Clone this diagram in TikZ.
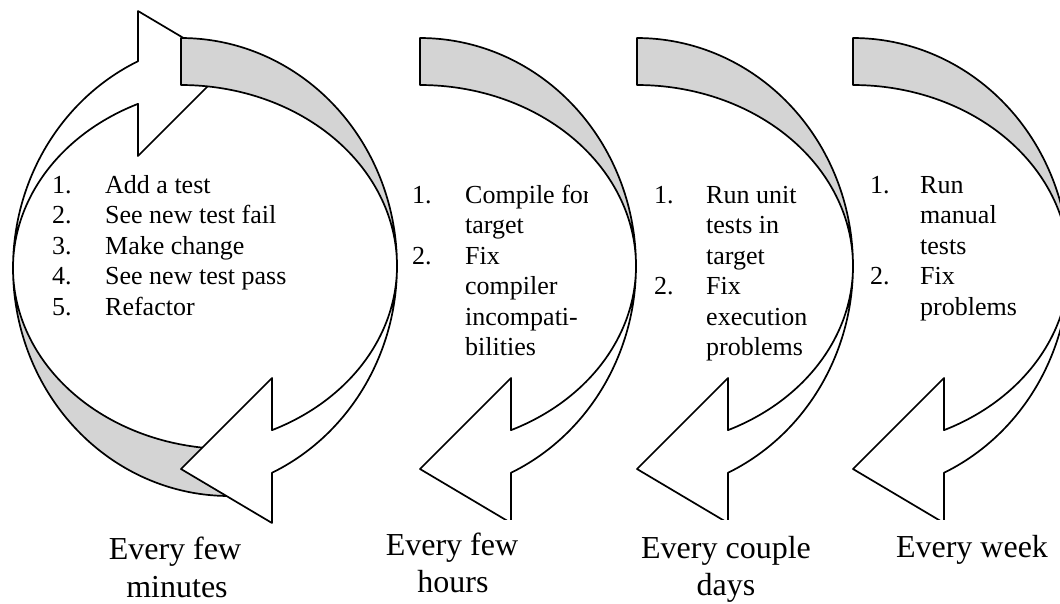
\documentclass[tikz,border=0pt]{standalone}
\usepackage{fontspec}
\setmainfont{Liberation Serif}
\definecolor{bandgray}{RGB}{212,212,212}
\tikzset{
  band/.style={line width=1.7pt, line join=round, draw=black},
  itemtxt/.style={anchor=base west, inner sep=0pt, font=\fontsize{26}{30}\selectfont},
  lbl/.style={anchor=base, inner sep=0pt, font=\fontsize{32}{37}\selectfont},
}
\newcommand\cycshape[1]{%
 \begin{scope}[shift={(#1,0)}]
  \filldraw[band, fill=bandgray] plot[domain=-90:0,samples=80] ({216*cos(\x)},{266+228*sin(\x)}) -- plot[domain=0:-90,samples=80] ({216*cos(\x)},{266+181*sin(\x)}) -- cycle;
  \filldraw[band, fill=white] plot[domain=0:65.08,samples=70] ({216*cos(\x)},{266+228*sin(\x)}) -- (91,523) -- (0,469) -- (91,378) -- plot[domain=65.08:0,samples=70] ({216*cos(\x)},{266+181*sin(\x)}) -- cycle;
 \end{scope}}
\begin{document}
\begin{tikzpicture}[x=1pt,y=-1pt]
\fill[white] (0,0) rectangle (1060,603);
\useasboundingbox (0,0) rectangle (1060,603);
\begin{scope}
 \clip (0,0) rectangle (1060,603);
 \begin{scope}[rotate around={180:(205,267)}]
  \cycshape{181}
 \end{scope}
 \cycshape{181}
 \begin{scope}
  \clip (0,0) rectangle (1060,519);
  \cycshape{420}
  \cycshape{637}
  \cycshape{853}
 \end{scope}
\end{scope}
% stage 1
\node[itemtxt] (a1n) at (52,193) {1.};
\node[itemtxt] (a1t) at (105,193) {Add a test};
\node[itemtxt] (a2n) at (52,223.5) {2.};
\node[itemtxt] (a2t) at (105,223.5) {See new test fail};
\node[itemtxt] (a3n) at (52,254) {3.};
\node[itemtxt] (a3t) at (105,254) {Make change};
\node[itemtxt] (a4n) at (52,284.5) {4.};
\node[itemtxt] (a4t) at (105,284.5) {See new test pass};
\node[itemtxt] (a5n) at (52,315) {5.};
\node[itemtxt] (a5t) at (105,315) {Refactor};
% stage 2
\node[itemtxt] (b1n) at (412,203) {1.};
\begin{scope}
 \clip (400,150) rectangle (587,220);
 \node[itemtxt] (b1t) at (465,203) {Compile for};
\end{scope}
\node[itemtxt] (b1u) at (465,233.5) {target};
\node[itemtxt] (b2n) at (412,264) {2.};
\node[itemtxt] (b2t) at (465,264) {Fix};
\node[itemtxt] (b2u) at (465,294.5) {compiler};
\node[itemtxt] (b2v) at (465,325) {incompati-};
\node[itemtxt] (b2w) at (465,355.5) {bilities};
% stage 3
\node[itemtxt] (c1n) at (654,203) {1.};
\node[itemtxt] (c1t) at (706,203) {Run unit};
\node[itemtxt] (c1u) at (706,233.5) {tests in};
\node[itemtxt] (c1v) at (706,264) {target};
\node[itemtxt] (c2n) at (654,294.5) {2.};
\node[itemtxt] (c2t) at (706,294.5) {Fix};
\node[itemtxt] (c2u) at (706,325) {execution};
\node[itemtxt] (c2v) at (706,355.5) {problems};
% stage 4
\node[itemtxt] (d1n) at (870,193) {1.};
\node[itemtxt] (d1t) at (920,193) {Run};
\node[itemtxt] (d1u) at (920,223.5) {manual};
\node[itemtxt] (d1v) at (920,254) {tests};
\node[itemtxt] (d2n) at (870,284.5) {2.};
\node[itemtxt] (d2t) at (920,284.5) {Fix};
\node[itemtxt] (d2u) at (920,315) {problems};
% labels
\node[lbl] (l1a) at (175,559) {Every few};
\node[lbl] (l1b) at (177,597) {minutes};
\node[lbl] (l2a) at (452,555) {Every few};
\node[lbl] (l2b) at (453,592) {hours};
\node[lbl] (l3a) at (726,558) {Every couple};
\node[lbl] (l3b) at (726,595) {days};
\node[lbl] (l4a) at (972,557) {Every week};
\end{tikzpicture}
\end{document}
